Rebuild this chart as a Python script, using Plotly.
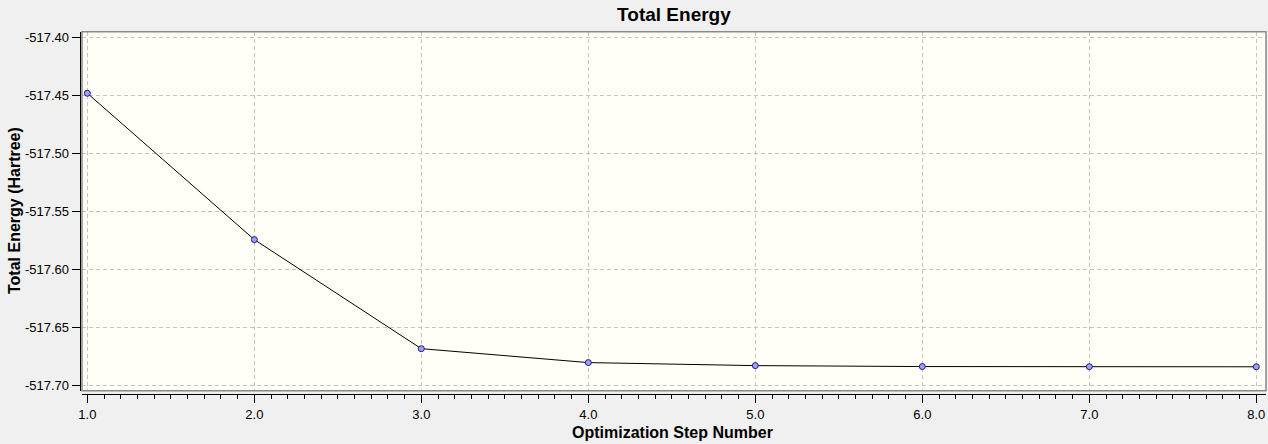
import plotly.graph_objects as go

# optimization steps and total energies (Hartree)
steps = [1, 2, 3, 4, 5, 6, 7, 8]
energy = [-517.4482, -517.5742, -517.6681, -517.6801, -517.6827, -517.6835, -517.6836, -517.6837]

x_ticks = [1, 2, 3, 4, 5, 6, 7, 8]
x_labels = ["1.0", "2.0", "3.0", "4.0", "5.0", "6.0", "7.0", "8.0"]
y_ticks = [-517.40, -517.45, -517.50, -517.55, -517.60, -517.65, -517.70]
y_labels = ["-517.40", "-517.45", "-517.50", "-517.55", "-517.60", "-517.65", "-517.70"]

font_name = "Liberation Sans, Arial, sans-serif"

fig = go.Figure()
fig.add_trace(go.Scatter(
    x=steps, y=energy,
    mode="lines+markers",
    line=dict(color="black", width=1),
    marker=dict(symbol="circle", size=6, color="#a0a0f2",
                line=dict(color="#1a1a80", width=1)),
    hoverinfo="x+y",
    showlegend=False,
))

# frame around the plot area
fig.add_shape(type="rect", xref="x domain", yref="y domain",
              x0=0, x1=1, y0=0, y1=1,
              line=dict(color="#8a8a8a", width=1.5), layer="above")

fig.update_layout(
    width=1268, height=444,
    margin=dict(l=60, r=0, t=20, b=40),
    paper_bgcolor="#f0f0f0",
    plot_bgcolor="#fffff7",
    font=dict(family=font_name, size=12, color="black"),
    title=dict(text="<b>Total Energy</b>", xref="container", yref="container",
               x=0.5315, y=0.968, xanchor="center", yanchor="middle",
               font=dict(size=19, color="black")),
    xaxis=dict(
        domain=[0.01821, 0.99834],
        range=[0.968, 8.058],
        anchor="free", position=0.0253,
        tickmode="array", tickvals=x_ticks, ticktext=x_labels,
        ticks="outside", ticklen=8, tickcolor="black", tickwidth=1,
        minor=dict(dtick=0.1, ticks="outside", ticklen=4, tickcolor="black",
                   tickwidth=1, showgrid=False),
        showline=True, linecolor="black", linewidth=1,
        showgrid=True, gridcolor="#c4c4c4", gridwidth=1, griddash="4px,3px",
        zeroline=False,
        tickfont=dict(size=13, color="black"),
    ),
    yaxis=dict(
        domain=[0.0346, 0.9695],
        range=[-517.7043, -517.3952],
        anchor="free", position=0.0163,
        tickmode="array", tickvals=y_ticks, ticktext=y_labels,
        ticks="outside", ticklen=8, tickcolor="black", tickwidth=1,
        showline=True, linecolor="black", linewidth=1,
        showgrid=True, gridcolor="#c4c4c4", gridwidth=1, griddash="4px,3px",
        zeroline=False,
        tickfont=dict(size=13, color="black"),
    ),
    annotations=[
        dict(text="<b>Optimization Step Number</b>", xref="paper", yref="paper",
             x=(672 - 60) / 1208, y=(404 - 432) / 384,
             xanchor="center", yanchor="middle", showarrow=False,
             font=dict(size=16, color="black")),
        dict(text="<b>Total Energy (Hartree)</b>", xref="paper", yref="paper",
             x=(14 - 60) / 1208, y=(404 - 211) / 384, textangle=-90,
             xanchor="center", yanchor="middle", showarrow=False,
             font=dict(size=16, color="black")),
    ],
)

# drop the page's default body margin so the figure fills the window
fig.write_html("out.html",
               config={"displayModeBar": False},
               post_script="document.body.style.margin='0';"
                           "document.body.style.background='#f0f0f0';")
